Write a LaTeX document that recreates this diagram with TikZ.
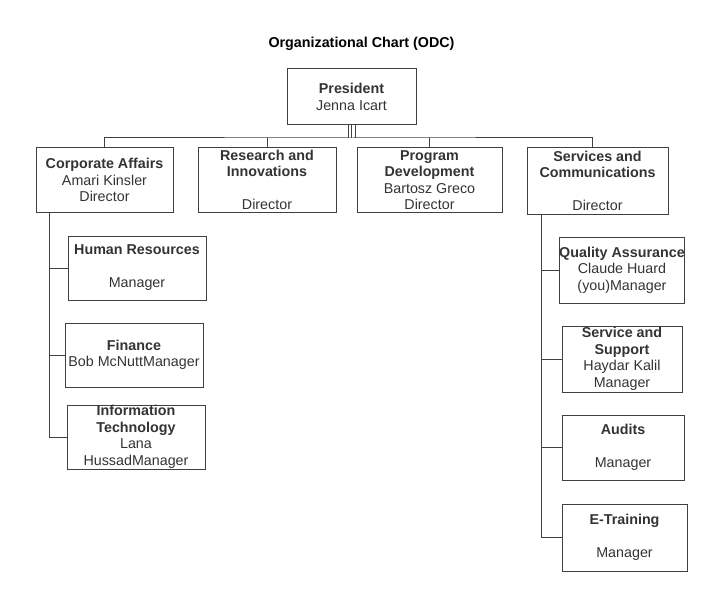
\documentclass[tikz,border=0pt]{standalone}
\usepackage{fontspec}
\setmainfont{Liberation Sans}
\begin{document}
\begin{tikzpicture}%
	[x=1pt, y=-1pt,
	font=\fontsize{14.3}{16.5}\selectfont,
	unit/.style={draw=black!75, line width=1pt, inner sep=0pt, align=center, text=black!80},
	link/.style={draw=black!75, line width=1pt},
	heading/.style={font=\fontsize{14.3}{16.5}\selectfont\bfseries, text=black}]
	\useasboundingbox (0,0) rectangle (723,591);

	\node[heading] (title) at (361.5,44) {Organizational Chart (ODC)};

	% top level
	\node[unit, minimum width=129pt, minimum height=56pt] (pres) at (351.5,97)
		{\textbf{President}\\Jenna Icart};

	% directors
	\node[unit, minimum width=137pt, minimum height=64pt] (corp) at (104.5,180)
		{\textbf{Corporate Affairs}\\Amari Kinsler\\Director};
	\node[unit, minimum width=138pt, minimum height=64pt] (res) at (267,180)
		{\textbf{Research and}\\\textbf{Innovations}\\[16.5pt]Director};
	\node[unit, minimum width=145pt, minimum height=64pt] (prog) at (429.5,180)
		{\textbf{Program}\\\textbf{Development}\\Bartosz Greco\\Director};
	\node[unit, minimum width=141pt, minimum height=66pt] (serv) at (597.5,181)
		{\textbf{Services and}\\\textbf{Communications}\\[16.5pt]Director};

	% managers under corporate affairs
	\node[unit, minimum width=138pt, minimum height=64pt] (hr) at (137,268)
		{\textbf{Human Resources}\\[16.5pt]Manager};
	\node[unit, minimum width=138pt, minimum height=64pt] (fin) at (134,355)
		{\textbf{Finance}\\Bob McNuttManager};
	\node[unit, minimum width=138pt, minimum height=64pt] (it) at (136,437)
		{\textbf{Information}\\\textbf{Technology}\\Lana\\HussadManager};

	% managers under services and communications
	\node[unit, minimum width=120pt, minimum height=66pt] (qa) at (622,270)
		{\textbf{Quality Assurance}\\Claude Huard\\(you)Manager};
	\node[unit, minimum width=120pt, minimum height=66pt] (supp) at (622,359)
		{\textbf{Service and}\\\textbf{Support}\\Haydar Kalil\\Manager};
	\node[unit, minimum width=122pt, minimum height=65pt] (aud) at (623,447.5)
		{\textbf{Audits}\\[16.5pt]Manager};
	\node[unit, minimum width=125pt, minimum height=67pt] (etr) at (624.5,537.5)
		{\textbf{E-Training}\\[16.5pt]Manager};

	% bus below the president
	\coordinate (bus) at (351.5,138);
	\coordinate (servdrop) at (592,148);
	\foreach \dx in {-3.5,0,3.5}
		\draw[link] ([xshift=\dx pt]pres.south) -- ([xshift=\dx pt]pres.south |- bus);
	\draw[link] (corp.north) |- (bus) -| (servdrop);
	\draw[link] (res.north) -- (res.north |- bus);
	\draw[link] (prog.north) -- (prog.north |- bus);

	% trunks
	\coordinate (corptrunk) at (49,212);
	\coordinate (servtrunk) at (541,214);
	\draw[link] (corptrunk) |- (it.west);
	\draw[link] (corptrunk |- hr.west) -- (hr.west);
	\draw[link] (corptrunk |- fin.west) -- (fin.west);
	\draw[link] (servtrunk) |- (etr.west);
	\foreach \m in {qa,supp,aud}
		\draw[link] (servtrunk |- \m.west) -- (\m.west);
\end{tikzpicture}
\end{document}
